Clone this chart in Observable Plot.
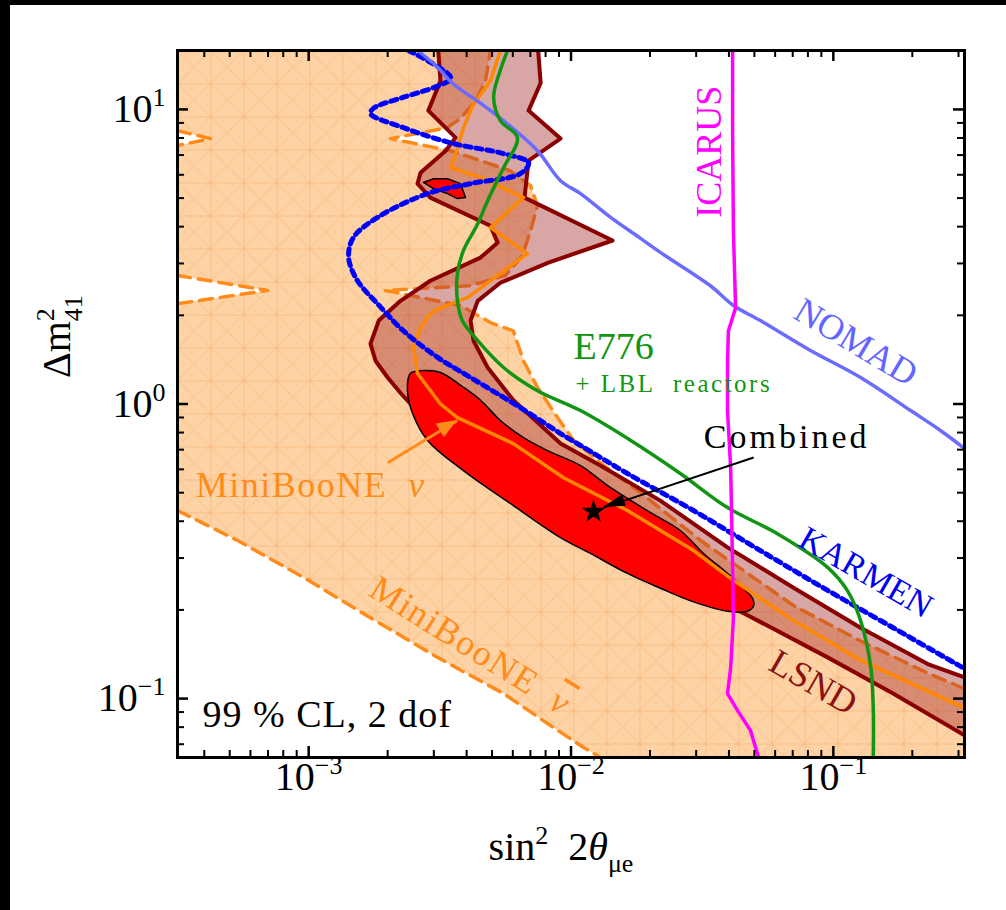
<!DOCTYPE html>
<html><head><meta charset="utf-8">
<script src="https://cdn.jsdelivr.net/npm/d3@7"></script>
<script src="https://cdn.jsdelivr.net/npm/@observablehq/plot@0.6"></script>
<style>
html,body{margin:0;padding:0;background:#fff;width:1006px;height:910px;overflow:hidden;}
#chart{position:absolute;left:0;top:0;}
.strip{position:absolute;background:#000;z-index:5;}
</style></head><body>
<div id="chart"></div>
<div class="strip" style="left:0;top:0;width:1006px;height:5px"></div>
<div class="strip" style="left:0;top:0;width:10px;height:910px"></div>
<script>
// ---------- axis limits and ticks ----------
const xDomain = [3.162e-4, 0.3162];
const yDomain = [0.0631, 15.85];
const xMajorTicks = [1e-3, 1e-2, 1e-1];
const xMinorTicks = [4e-4,5e-4,6e-4,7e-4,8e-4,9e-4,2e-3,3e-3,4e-3,5e-3,6e-3,7e-3,8e-3,9e-3,2e-2,3e-2,4e-2,5e-2,6e-2,7e-2,8e-2,9e-2,0.2,0.3];
const yMajorTicks = [0.1, 1, 10];
const yMinorTicks = [0.07,0.08,0.09,0.2,0.3,0.4,0.5,0.6,0.7,0.8,0.9,2,3,4,5,6,7,8,9];

// ---------- MiniBooNE anti-nu allowed region (dashed boundary) ----------
const mbBarNotchA = [[3.162e-4, 8.47], [4.23e-4, 7.96], [3.162e-4, 7.54]];
const mbBarNotchB = [[3.162e-4, 2.73], [6.97e-4, 2.43], [3.162e-4, 2.19]];
const mbBarLower = [[3.162e-4, 0.435], [5.36e-4, 0.344], [9.55e-4, 0.258], [1.72e-3, 0.188], [3.10e-3, 0.138], [5.53e-3, 0.104], [8.57e-3, 0.0798], [1.117e-2, 0.0682], [1.294e-2, 0.0631]];
const mbBarUpper = [[0.3162, 0.108], [0.229, 0.122], [0.127, 0.157], [7.05e-2, 0.207], [3.12e-2, 0.344], [1.84e-2, 0.500], [1.294e-2, 0.632], [1.023e-2, 0.752], [8.89e-3, 0.899], [7.45e-3, 1.14], [6.59e-3, 1.40], [6.03e-3, 1.77], [4.93e-3, 1.89], [3.79e-3, 2.16], [1.96e-3, 2.43], [4.14e-3, 2.52], [5.62e-3, 2.73], [6.53e-3, 3.19], [7.01e-3, 3.88], [7.45e-3, 4.71], [7.01e-3, 5.51], [5.87e-3, 6.19], [4.52e-3, 6.70], [3.48e-3, 7.24], [2.05e-3, 7.96], [3.38e-3, 8.67], [3.79e-3, 9.31], [4.33e-3, 10.7], [4.72e-3, 12.5], [4.93e-3, 15.85]];

// ---------- LSND region ----------
const lsnd = [[3.10e-3, 17], [3.18e-3, 12.5], [2.86e-3, 9.91], [3.63e-3, 8.02], [3.33e-3, 7.24], [2.67e-3, 6.10], [2.60e-3, 5.60], [2.91e-3, 5.02], [4.93e-3, 4.03], [5.25e-3, 3.53], [4.52e-3, 3.14], [2.91e-3, 2.62], [2.24e-3, 2.24], [1.85e-3, 1.92], [1.72e-3, 1.60], [1.80e-3, 1.40], [2.00e-3, 1.23], [2.24e-3, 1.09], [2.79e-3, 0.879], [4.14e-3, 0.668], [7.66e-3, 0.481], [1.545e-2, 0.331], [3.12e-2, 0.233], [4.55e-2, 0.195], [9.51e-2, 0.138], [0.169, 0.104], [0.3162, 0.075], [0.34, 0.072],
  [0.34, 0.114], [0.3162, 0.118], [0.229, 0.131], [0.127, 0.174], [7.05e-2, 0.238], [3.95e-2, 0.326], [2.19e-2, 0.470], [1.294e-2, 0.618], [9.12e-3, 0.734], [6.03e-3, 1.03], [4.81e-3, 1.33], [4.25e-3, 1.64], [4.14e-3, 1.92], [4.41e-3, 2.24], [5.38e-3, 2.58], [8.20e-3, 3.02], [1.44e-2, 3.59], [6.65e-3, 5.02], [6.89e-3, 6.70], [9.12e-3, 7.96], [6.89e-3, 9.91], [7.66e-3, 12.3], [7.45e-3, 17]];

// ---------- Combined fit region ----------
const combinedMain = [[2.44e-3,1.27],[2.79e-3,1.30],[3.18e-3,1.28],[3.89e-3,1.14],[4.52e-3,1.03],[5.38e-3,0.879],[6.59e-3,0.769],[8.13e-3,0.695],[1.087e-2,0.618],[1.416e-2,0.520],[2.01e-2,0.428],[2.61e-2,0.372],[3.20e-2,0.311],[3.95e-2,0.266],[4.63e-2,0.233],[4.92e-2,0.219],[4.97e-2,0.207],[4.71e-2,0.198],[3.95e-2,0.198],[2.93e-2,0.213],[2.19e-2,0.237],[1.64e-2,0.266],[1.186e-2,0.311],[9.12e-3,0.352],[6.03e-3,0.452],[3.89e-3,0.594],[2.84e-3,0.752],[2.49e-3,0.929],[2.38e-3,1.11]];
const combinedIsland = [[2.74e-3,5.65],[2.99e-3,5.82],[3.38e-3,5.82],[3.79e-3,5.60],[3.96e-3,5.02],[3.69e-3,4.98],[3.38e-3,5.18],[2.99e-3,5.38]];
const bestFit = [[1.219e-2, 0.431]];

// ---------- exclusion / allowed curves ----------
const mbNu = [[5.38e-3, 15.85], [4.93e-3, 12.5], [4.22e-3, 10.3], [3.89e-3, 8.67], [3.69e-3, 7.41], [3.48e-3, 6.34], [4.52e-3, 5.88], [6.59e-3, 5.02], [4.93e-3, 3.97], [6.82e-3, 3.24], [4.93e-3, 2.62], [4.04e-3, 2.30], [3.18e-3, 2.12], [2.91e-3, 2.03], [2.67e-3, 1.82], [2.51e-3, 1.56], [2.60e-3, 1.27], [3.18e-3, 1.00], [3.69e-3, 0.899], [6.03e-3, 0.734], [9.36e-3, 0.562], [1.64e-2, 0.435], [2.93e-2, 0.318], [4.16e-2, 0.252], [7.05e-2, 0.184], [0.127, 0.135], [0.229, 0.106], [0.313, 0.0933]];
const karmen = [[2.40e-3, 15.85], [3.48e-3, 12.8], [3.10e-3, 12.0], [2.30e-3, 11.0], [1.77e-3, 10.1], [1.72e-3, 9.68], [2.30e-3, 8.67], [3.56e-3, 7.66], [5.53e-3, 7.08], [6.89e-3, 6.59], [6.41e-3, 6.05], [4.14e-3, 5.60], [2.84e-3, 5.18], [1.83e-3, 4.30], [1.48e-3, 3.67], [1.42e-3, 3.14], [1.535e-3, 2.62], [1.83e-3, 2.19], [2.30e-3, 1.77], [3.10e-3, 1.44], [4.14e-3, 1.23], [6.41e-3, 0.972], [9.12e-3, 0.794], [1.087e-2, 0.723], [1.64e-2, 0.581], [2.93e-2, 0.435], [5.27e-2, 0.318], [9.51e-2, 0.233], [0.169, 0.174], [0.313, 0.127]];
const nomad = [[2.60e-3, 15.85], [3.10e-3, 13.9], [3.56e-3, 12.2], [4.52e-3, 10.5], [5.53e-3, 9.16], [7.45e-3, 7.24], [9.12e-3, 5.73], [1.087e-2, 5.18], [1.416e-2, 4.30], [1.84e-2, 3.65], [2.19e-2, 3.27], [3.40e-2, 2.52], [4.16e-2, 2.16], [5.27e-2, 1.92], [8.18e-2, 1.52], [0.127, 1.23], [0.197, 0.950], [0.256, 0.813], [0.313, 0.711]];
const e776 = [[5.73e-3, 15.85], [5.38e-3, 13.6], [5.07e-3, 11.0], [5.38e-3, 9.16], [6.25e-3, 8.02], [5.53e-3, 6.34], [4.81e-3, 4.90], [4.41e-3, 4.09], [3.89e-3, 3.32], [3.69e-3, 2.77], [3.69e-3, 2.24], [3.85e-3, 1.92], [4.41e-3, 1.64], [5.53e-3, 1.33], [7.45e-3, 1.11], [1.087e-2, 0.950], [1.69e-2, 0.752], [2.61e-2, 0.581], [3.95e-2, 0.445], [6.12e-2, 0.363], [9.51e-2, 0.279], [0.113, 0.233], [0.127, 0.184], [0.139, 0.127], [0.142, 0.0912], [0.142, 0.0631]];
const icarus = [[4.13e-2, 15.85], [4.13e-2, 8.47], [4.16e-2, 3.88], [4.24e-2, 2.12], [3.98e-2, 1.77], [3.95e-2, 1.37], [3.95e-2, 0.950], [4.06e-2, 0.608], [4.13e-2, 0.279], [4.16e-2, 0.188], [4.06e-2, 0.127], [3.95e-2, 0.104], [4.31e-2, 0.0912], [4.83e-2, 0.078], [5.19e-2, 0.0631]];

// ---------- annotation anchors (data coordinates) ----------
const arrowCombined = [{x1: 4.97e-2, y1: 0.658, x2: 1.33e-2, y2: 0.445}];
const arrowNu = [{x1: 2.0e-3, y1: 0.632, x2: 3.69e-3, y2: 0.879}];
const labelICARUS = [{x: 3.37e-2, y: 7.19, text: "ICARUS"}];
const labelNOMAD = [{x: 0.122, y: 1.62, text: "NOMAD"}];
const labelE776 = [{x: 1.023e-2, y: 1.56, text: "E776"}];
const labelLBL = [{x: 1.04e-2, y: 1.17, text: "~2.5~+ LBL\u00a0 reactors"}];
const labelCombined = [{x: 6.64e-2, y: 0.774, text: "~3~Combined"}];
const labelKARMEN = [{x: 0.133, y: 0.268, text: "KARMEN"}];
const labelLSND = [{x: 8.39e-2, y: 0.1135, text: "LSND"}];
const labelMBnu = [{x: 3.71e-4, y: 0.528, text: "~1.5~MiniBooNE\u00a0\u00a0*{ν}"}];
const labelMBbar = [{x: 4.14e-3, y: 0.151, text: "~1.5~MiniBooNE\u00a0\u00a0!{ν}"}];
const labelCL = [{x: 3.94e-4, y: 0.0883, text: "~1~99\u00a0%\u00a0CL,\u00a02\u00a0dof"}];
const xTitle = ["sin^{2}\u00a0\u00a02*{θ}_{μe}"];
const yTitle = ["Δm^{2}_{41}"];

// ---------- layout ----------
const W = 1006, H = 910, mL = 177, mR = 42, mT = 50, mB = 153;
const innerW = W - mL - mR, innerH = H - mT - mB;
const X = d => d[0], Y = d => d[1];
const font = "Liberation Serif";
const NS = "http://www.w3.org/2000/svg";
const closed = a => [...a, a[0]];
const expLabel = d => { const e = Math.round(Math.log10(d)); return "10^{" + (e < 0 ? "\u2212" + (-e) : e) + "}"; };

function hatchDefs() {
  const g = document.createElementNS(NS, "g");
  const defs = document.createElementNS(NS, "defs");
  const p = document.createElementNS(NS, "pattern");
  const s = 33;
  p.setAttribute("id", "mbHatch");
  p.setAttribute("patternUnits", "userSpaceOnUse");
  p.setAttribute("width", s); p.setAttribute("height", s);
  p.setAttribute("x", mL); p.setAttribute("y", mT);
  const r = document.createElementNS(NS, "rect");
  r.setAttribute("width", s); r.setAttribute("height", s); r.setAttribute("fill", "#fdd3a6");
  const path = document.createElementNS(NS, "path");
  path.setAttribute("d", `M0,0L${s},${s}M${s},0L0,${s}M0.5,0V${s}M0,0.5H${s}`);
  path.setAttribute("stroke", "#f7b070"); path.setAttribute("stroke-width", "1");
  path.setAttribute("stroke-opacity", "0.6"); path.setAttribute("fill", "none");
  p.appendChild(r); p.appendChild(path); defs.appendChild(p); g.appendChild(defs);
  return g;
}

// filled arrow heads drawn through the plot's own scales
function arrowHeads(arrows, color, len, halfW) {
  return (index, scales) => {
    const g = document.createElementNS(NS, "g");
    try {
      for (const a of arrows) {
        const x1 = scales.x(a.x1), y1 = scales.y(a.y1), x2 = scales.x(a.x2), y2 = scales.y(a.y2);
        const dx = x2 - x1, dy = y2 - y1, L = Math.hypot(dx, dy), ux = dx / L, uy = dy / L;
        const bx = x2 - ux * len, by = y2 - uy * len;
        const p = document.createElementNS(NS, "path");
        p.setAttribute("d", `M${x2},${y2}L${bx - uy * halfW},${by + ux * halfW}L${bx + uy * halfW},${by - ux * halfW}Z`);
        p.setAttribute("fill", color);
        g.appendChild(p);
      }
    } catch (e) {}
    return g;
  };
}

function richify(svg) {
  svg.querySelectorAll("text").forEach(t => {
    let s = t.textContent;
    const ls = s.match(/^~([\d.]+)~/);
    if (ls) { t.setAttribute("letter-spacing", ls[1]); s = s.slice(ls[0].length); }
    if (!/[\^_*!]\{/.test(s)) { if (ls) t.textContent = s; return; }
    const fs = parseFloat(getComputedStyle(t).fontSize) || 16;
    t.textContent = "";
    const re = /([\^_*!])\{([^}]*)\}|([^\^_*!]+)/g;
    let shift = 0, prev = null, prevKind = "", m;
    while ((m = re.exec(s))) {
      const kind = m[1] || "n";
      const ts = document.createElementNS(NS, "tspan");
      const target = kind === "^" ? -0.4 * fs : kind === "_" ? 0.3 * fs : 0;
      if (Math.abs(target - shift) > 1e-6) ts.setAttribute("dy", (target - shift).toFixed(2));
      shift = target;
      if (kind === "^" || kind === "_") ts.setAttribute("font-size", (0.65 * fs).toFixed(1));
      if (kind === "*" || kind === "!") ts.setAttribute("font-style", "italic");
      if (kind === "!") ts.setAttribute("text-decoration", "overline");
      ts.textContent = m[1] ? m[2] : m[3];
      t.appendChild(ts);
      if (kind === "_" && prevKind === "^") ts.setAttribute("dx", (-prev.getComputedTextLength()).toFixed(2));
      prev = ts; prevKind = kind;
    }
  });
}

const mbBarRegion = [[xDomain[0], yDomain[1]], ...mbBarNotchA, ...mbBarNotchB, ...mbBarLower, [xDomain[1], yDomain[0]], ...mbBarUpper];
const mbOrange = "#ff8c1a";
const dashed = {stroke: mbOrange, strokeWidth: 3.5, strokeDasharray: "13,8", clip: true, x: X, y: Y};
const txt = (data, o) => Plot.text(data, {x: "x", y: "y", text: "text", fontFamily: font, ...o});
const link = (data, o) => Plot.link(data, {x1: "x1", y1: "y1", x2: "x2", y2: "y2", ...o});

const chart = Plot.plot({
  width: W, height: H,
  marginLeft: mL, marginRight: mR, marginTop: mT, marginBottom: mB,
  x: {type: "log", domain: xDomain, axis: null},
  y: {type: "log", domain: yDomain, axis: null},
  style: {fontFamily: font, background: "white", color: "black"},
  marks: [
    () => hatchDefs(),
    Plot.line(mbBarRegion, {x: X, y: Y, fill: "url(#mbHatch)", stroke: "none", clip: true}),
    Plot.line(mbBarNotchA, dashed),
    Plot.line(mbBarNotchB, dashed),
    Plot.line(mbBarLower, dashed),
    Plot.line(mbBarUpper, dashed),
    Plot.line(closed(lsnd), {x: X, y: Y, fill: "#a52a2a", fillOpacity: 0.42, stroke: "#8b0000", strokeWidth: 4, strokeLinejoin: "round", clip: true}),
    Plot.line(combinedMain, {x: X, y: Y, curve: "catmull-rom-closed", fill: "#ff0000", stroke: "black", strokeWidth: 1.5, clip: true}),
    Plot.line(combinedIsland, {x: X, y: Y, curve: "linear-closed", fill: "#ff0000", stroke: "black", strokeWidth: 1.5, clip: true}),
    Plot.line(mbNu, {x: X, y: Y, stroke: "#ff8800", strokeWidth: 3.5, clip: true}),
    Plot.line(karmen, {x: X, y: Y, curve: "catmull-rom", stroke: "#0000ff", strokeWidth: 5, strokeDasharray: "6,5", clip: true}),
    Plot.line(nomad, {x: X, y: Y, curve: "catmull-rom", stroke: "#6b6bff", strokeWidth: 3.5, clip: true}),
    Plot.line(e776, {x: X, y: Y, curve: "catmull-rom", stroke: "#129512", strokeWidth: 3.5, clip: true}),
    Plot.line(icarus, {x: X, y: Y, stroke: "#ff00ff", strokeWidth: 3.5, clip: true}),
    link(arrowNu, {stroke: mbOrange, strokeWidth: 3}),
    arrowHeads(arrowNu, mbOrange, 20, 8),
    link(arrowCombined, {stroke: "black", strokeWidth: 2}),
    arrowHeads(arrowCombined, "black", 22, 6),
    Plot.dot(bestFit, {x: X, y: Y, symbol: "star", r: 6, fill: "black", stroke: "black"}),
    // labels
    txt(labelICARUS, {rotate: -90, fontSize: 36, fill: "#ff00ff"}),
    txt(labelNOMAD, {rotate: 31, fontSize: 36, fill: "#6464ff"}),
    txt(labelE776, {textAnchor: "start", fontSize: 38, fill: "#129512"}),
    txt(labelLBL, {textAnchor: "start", fontSize: 25, fill: "#129512"}),
    txt(labelCombined, {fontSize: 34, fill: "black"}),
    txt(labelKARMEN, {rotate: 30, fontSize: 34, fill: "#0000ee"}),
    txt(labelLSND, {rotate: 30, fontSize: 36, fill: "#8b1010"}),
    txt(labelMBnu, {textAnchor: "start", fontSize: 36, fill: mbOrange}),
    txt(labelMBbar, {rotate: 32, fontSize: 36, fill: mbOrange}),
    txt(labelCL, {textAnchor: "start", fontSize: 38, fill: "black"}),
    // ticks (inward, mirrored)
    Plot.tickX(xMajorTicks, {x: d => d, insetTop: innerH - 11, strokeWidth: 2.5}),
    Plot.tickX(xMajorTicks, {x: d => d, insetBottom: innerH - 11, strokeWidth: 2.5}),
    Plot.tickX(xMinorTicks, {x: d => d, insetTop: innerH - 7, strokeWidth: 2}),
    Plot.tickX(xMinorTicks, {x: d => d, insetBottom: innerH - 7, strokeWidth: 2}),
    Plot.tickY(yMajorTicks, {y: d => d, insetRight: innerW - 11, strokeWidth: 2.5}),
    Plot.tickY(yMajorTicks, {y: d => d, insetLeft: innerW - 11, strokeWidth: 2.5}),
    Plot.tickY(yMinorTicks, {y: d => d, insetRight: innerW - 7, strokeWidth: 2}),
    Plot.tickY(yMinorTicks, {y: d => d, insetLeft: innerW - 7, strokeWidth: 2}),
    Plot.frame({stroke: "black", strokeWidth: 3}),
    // tick labels and axis titles
    Plot.text(xMajorTicks, {x: d => d, frameAnchor: "bottom", dy: 32, text: expLabel, fontSize: 40, fontFamily: font}),
    Plot.text(yMajorTicks, {y: d => d, frameAnchor: "left", dx: -12, textAnchor: "end", text: expLabel, fontSize: 40, fontFamily: font}),
    Plot.text(xTitle, {frameAnchor: "bottom", dx: -10, dy: 102, text: d => d, fontSize: 40, fontFamily: font}),
    Plot.text(yTitle, {frameAnchor: "left", rotate: -90, dx: -120, dy: -26, text: d => d, fontSize: 40, fontFamily: font})
  ]
});
document.getElementById("chart").appendChild(chart);
richify(chart);
</script></body></html>
